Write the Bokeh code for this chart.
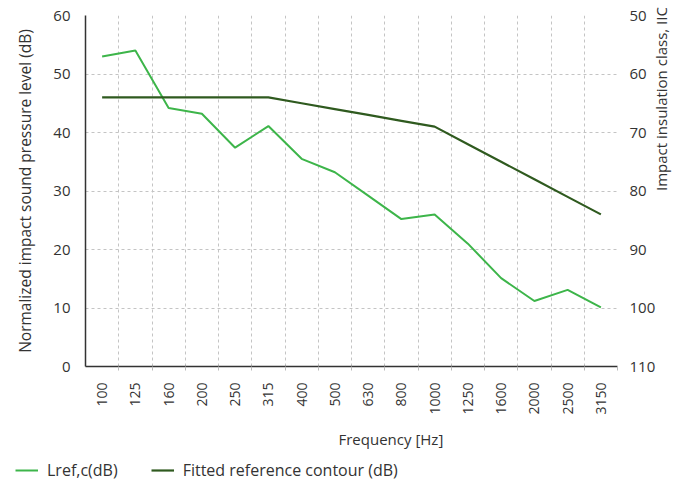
from bokeh.plotting import figure
from bokeh.models import (Range1d, LinearAxis, FixedTicker, Legend, LegendItem, Title)
from bokeh.layouts import column
from bokeh.embed import file_html
from bokeh.resources import INLINE
from math import pi

# ---- data ----
frequencies = ["100", "125", "160", "200", "250", "315", "400", "500", "630",
               "800", "1000", "1250", "1600", "2000", "2500", "3150"]
lref = [53.0, 54.0, 44.2, 43.2, 37.4, 41.1, 35.5, 33.2, 29.2,
        25.2, 26.0, 21.0, 15.1, 11.2, 13.1, 10.1]
contour = [46, 46, 46, 46, 46, 46, 45, 44, 43, 42, 41, 38, 35, 32, 29, 26]
left_ticks = [0, 10, 20, 30, 40, 50, 60]
right_ticks = [50, 60, 70, 80, 90, 100, 110]
series_names = ["Lref,c(dB)", "Fitted reference contour (dB)"]

LIGHT = "#3db54a"
DARK = "#2f5a1f"
TXT = "#333333"
FONT = "Open Sans"

x = list(range(len(frequencies)))

p = figure(width=684, height=459, output_backend="svg", toolbar_location=None,
           x_range=Range1d(-0.5, len(frequencies) - 0.5), y_range=Range1d(0, 60),
           min_border_left=85, min_border_right=67, min_border_top=15, min_border_bottom=93)
p.frame_align = False
p.outline_line_color = None
p.background_fill_color = "white"
p.border_fill_color = "white"

# grids
p.xgrid.ticker = FixedTicker(ticks=[i + 0.5 for i in x])
p.ygrid.ticker = FixedTicker(ticks=left_ticks)
for g in (p.xgrid, p.ygrid):
    g.grid_line_color = "#c4c4c4"
    g.grid_line_dash = "3 3"
    g.grid_line_width = 1

# x axis
xa = p.xaxis[0]
xa.ticker = FixedTicker(ticks=x, minor_ticks=[i + 0.5 for i in x])
xa.major_label_overrides = {i: f for i, f in enumerate(frequencies)}
xa.major_label_orientation = pi / 2
xa.major_tick_line_color = None
xa.major_tick_out = 0
xa.major_tick_in = 0
xa.minor_tick_line_color = "#bbbbbb"
xa.minor_tick_out = 4
xa.minor_tick_in = 0
xa.major_label_standoff = 12
xa.major_label_text_font = FONT
xa.major_label_text_font_size = "14px"
xa.major_label_text_color = TXT
xa.axis_line_color = TXT
xa.axis_line_width = 1.5

# left axis
ya = p.yaxis[0]
ya.ticker = FixedTicker(ticks=left_ticks)
ya.major_tick_line_color = None
ya.minor_tick_line_color = None
ya.major_tick_out = 0
ya.major_tick_in = 0
ya.major_label_standoff = 15
ya.major_label_text_font = FONT
ya.major_label_text_font_size = "15px"
ya.major_label_text_color = TXT
ya.axis_line_color = TXT
ya.axis_line_width = 1.5
ya.axis_label = "Normalized impact sound pressure level (dB)"
ya.axis_label_text_font = FONT
ya.axis_label_text_font_size = "15.5px"
ya.axis_label_text_font_style = "normal"
ya.axis_label_text_color = TXT
ya.axis_label_standoff = 14

# right axis
p.extra_y_ranges = {"iic": Range1d(110, 50)}
ra = LinearAxis(y_range_name="iic", ticker=FixedTicker(ticks=right_ticks))
ra.axis_line_color = None
ra.major_tick_line_color = None
ra.minor_tick_line_color = None
ra.major_tick_out = 0
ra.major_tick_in = 0
ra.major_label_standoff = 12
ra.major_label_text_font = FONT
ra.major_label_text_font_size = "15px"
ra.major_label_text_color = TXT
ra.axis_label = "Impact insulation class, IIC"
ra.axis_label_orientation = pi / 2
ra.axis_label_text_font = FONT
ra.axis_label_text_font_size = "15px"
ra.axis_label_text_font_style = "normal"
ra.axis_label_text_color = TXT
ra.axis_label_standoff = 3
p.add_layout(ra, "right")

# x axis title
t = Title(text="Frequency [Hz]", align="left", offset=253, text_font=FONT,
          text_font_size="15px", text_font_style="normal", text_color=TXT, standoff=19)
p.add_layout(t, "below")

p.line(x, lref, line_color=LIGHT, line_width=2)
p.line(x, contour, line_color=DARK, line_width=2.2)

# legend strip (separate figure; its lines lie outside its visible range)
q = figure(width=684, height=24, output_backend="svg", toolbar_location=None,
           x_range=Range1d(0, 1), y_range=Range1d(1000, 1001), min_border=0,
           x_axis_location=None, y_axis_location=None)
q.frame_align = False
q.grid.visible = False
q.outline_line_color = None
l1 = q.line(x, lref, line_color=LIGHT, line_width=2)
l2 = q.line(x, contour, line_color=DARK, line_width=2.2)
legend = Legend(items=[LegendItem(label=series_names[0], renderers=[l1]),
                       LegendItem(label=series_names[1], renderers=[l2])],
                location=(15, 2), orientation="horizontal",
                glyph_width=23, glyph_height=18, label_height=18, label_standoff=9,
                spacing=33, padding=0, margin=0,
                label_text_font=FONT, label_text_font_size="16px", label_text_color=TXT,
                background_fill_alpha=0, border_line_color=None)
q.add_layout(legend, "center")

open("out.html", "w").write(file_html(column(p, q, spacing=0), INLINE))
